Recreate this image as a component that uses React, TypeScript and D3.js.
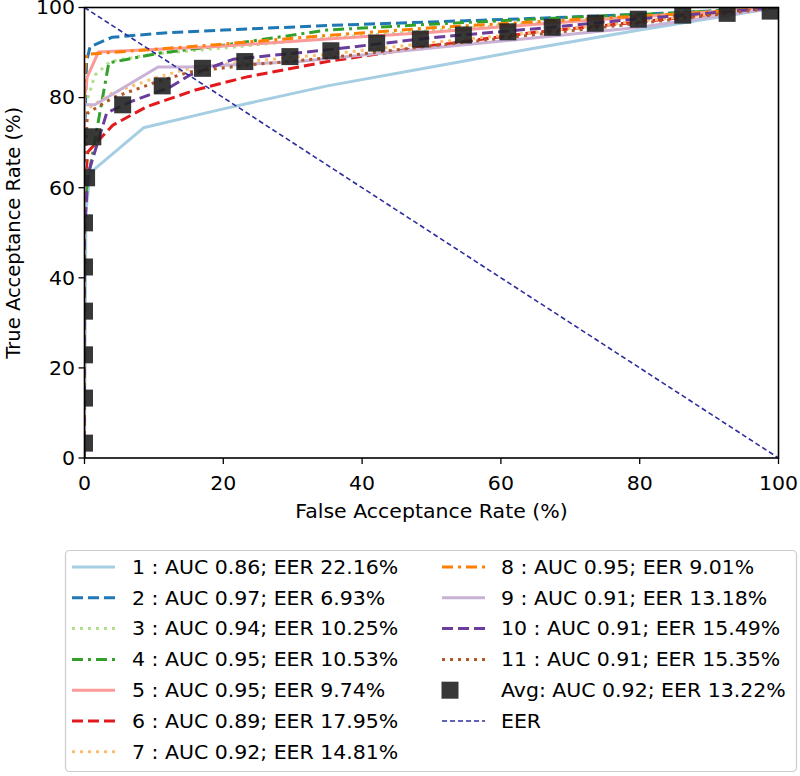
import * as d3 from "d3";

// ROC points per user: [false acceptance %, true acceptance %]
const roc1 = [[0, 0], [0.2, 54.6], [0.8, 63.3], [8.5, 73.3], [20, 77.5], [35, 82.6], [50, 86.8], [65, 91], [80, 95], [100, 100]];
const roc2 = [[0, 0], [0, 70], [0.3, 88], [0.8, 91.3], [4, 93.4], [11, 94.3], [20, 95], [35, 96], [50, 96.8], [67, 97.7], [85, 98.8], [100, 100]];
const roc3 = [[0, 0], [0, 70], [0.5, 80], [1.5, 85], [3.7, 88], [10, 89.7], [20, 91], [35, 93.2], [60, 96], [80, 98], [100, 100]];
const roc4 = [[0, 0], [0, 55], [0.4, 61], [3.5, 87.7], [10.9, 89.9], [18.5, 91.3], [35, 95], [50, 96.3], [70, 97.8], [85, 98.8], [100, 100]];
const roc5 = [[0, 0], [0, 80], [0.4, 84.6], [2, 90.1], [18.5, 91.3], [35, 93], [50, 94.5], [67, 96.5], [85, 98.5], [100, 100]];
const roc6 = [[0, 0], [0, 60], [0.5, 68], [4.1, 73.9], [9, 78], [16, 81.7], [23.4, 84.6], [35, 88], [50, 91.5], [65, 94.5], [80, 96.8], [100, 100]];
const roc7 = [[0, 0], [0, 65], [0.4, 77.5], [4, 81], [10.4, 84.5], [15.2, 86.5], [23.4, 88], [35, 89.6], [50, 92.2], [65, 94.5], [80, 97], [100, 100]];
const roc8 = [[0, 0], [0, 85], [0.3, 89.6], [9, 90.6], [18.5, 91.7], [35, 93.8], [50, 95.5], [67, 97], [85, 98.5], [100, 100]];
const roc9 = [[0, 0], [0, 78.4], [1.5, 78.4], [10.6, 86.8], [15.2, 86.8], [31, 88], [50, 91], [65, 93.3], [80, 95.6], [100, 100]];
const roc10 = [[0, 0], [0, 50], [0.5, 63], [3.2, 76.6], [6.5, 79], [12.3, 82.3], [15.2, 85], [21.4, 88.5], [35, 90.6], [50, 93.3], [65, 95.3], [80, 97.5], [100, 100]];
const roc11 = [[0, 0], [0, 60], [0.4, 76.5], [4.1, 80], [10.4, 83.5], [15.2, 85.7], [23.4, 87.2], [35, 88.8], [50, 91.5], [65, 94], [80, 96.5], [100, 100]];

const avgPoints = [[0, 3.3], [0, 13.3], [0, 22.9], [0, 32.6], [0, 42.4], [0, 52.2], [0.3, 62.2], [1.2, 71.3], [5.5, 78.4], [11.2, 82.6], [17, 86.5], [23.1, 88], [29.6, 89.1], [35.5, 90.4], [42.1, 92.1], [48.4, 93], [54.6, 93.9], [61, 94.6], [67.4, 95.6], [73.6, 96.5], [79.8, 97.4], [86.2, 98.3], [92.6, 98.7], [98.8, 99.2]];
const eerLine = [[0, 100], [100, 0]];

const labels = [
  "1 : AUC 0.86; EER 22.16%",
  "2 : AUC 0.97; EER 6.93%",
  "3 : AUC 0.94; EER 10.25%",
  "4 : AUC 0.95; EER 10.53%",
  "5 : AUC 0.95; EER 9.74%",
  "6 : AUC 0.89; EER 17.95%",
  "7 : AUC 0.92; EER 14.81%",
  "8 : AUC 0.95; EER 9.01%",
  "9 : AUC 0.91; EER 13.18%",
  "10 : AUC 0.91; EER 15.49%",
  "11 : AUC 0.91; EER 15.35%",
];
const avgLabel = "Avg: AUC 0.92; EER 13.22%";
const eerLabel = "EER";

const colors = ["#a6cee3", "#1f78b4", "#b2df8a", "#33a02c", "#fb9a99", "#e31a1c", "#fdbf6f", "#ff7f00", "#cab2d6", "#6a3d9a", "#b15928"];
const styles = ["solid", "dashed", "dotted", "dashdot", "solid", "dashed", "dotted", "dashdot", "solid", "dashed", "dotted"];
const xTicks = [0, 20, 40, 60, 80, 100];
const yTicks = [0, 20, 40, 60, 80, 100];

const series = [roc1, roc2, roc3, roc4, roc5, roc6, roc7, roc8, roc9, roc10, roc11];

const dashOf: { [k: string]: string | undefined } = {
  solid: undefined,
  dashed: "11,5",
  dotted: "3,5",
  dashdot: "11,5,3,5",
};

const FONT = "DejaVu Sans, sans-serif";
const FS = 19.5;
const SX = 1.05;

const T = ({ x, y, anchor = "start", children }: any) => (
  <g transform={`translate(${x},${y}) scale(${SX},1)`}>
    <text x={0} y={0} dy="0.35em" textAnchor={anchor} fontSize={FS} fontFamily={FONT} fill="#000">
      {children}
    </text>
  </g>
);

export default function App() {
  const width = 800;
  const height = 776;
  const left = 84.5, right = 778.5, top = 7.5, bottom = 458;

  const x = d3.scaleLinear().domain([0, 100]).range([left, right]);
  const y = d3.scaleLinear().domain([0, 100]).range([bottom, top]);
  const line = d3.line<number[]>().x((d) => x(d[0])).y((d) => y(d[1]));

  const mk = 17;
  const legTop = 567, legStep = 30.8;

  return (
    <svg width={width} height={height} style={{ position: "absolute", left: 0, top: 0, background: "white" }}>
      <defs>
        <clipPath id="plot">
          <rect x={left} y={top} width={right - left} height={bottom - top} />
        </clipPath>
      </defs>
      <rect x={0} y={0} width={width} height={height} fill="white" />

      <g clipPath="url(#plot)">
        {series.map((s, i) => (
          <path key={i} d={line(s) || ""} fill="none" stroke={colors[i]} strokeWidth={3}
            strokeDasharray={dashOf[styles[i]]} strokeLinejoin="round" />
        ))}
        {avgPoints.map((p, i) => (
          <rect key={i} x={x(p[0]) - mk / 2} y={y(p[1]) - mk / 2} width={mk} height={mk} fill="#222" opacity={0.9} />
        ))}
        <path d={line(eerLine) || ""} fill="none" stroke="#2e2e9e" strokeWidth={1.6} strokeDasharray="5,3" />
      </g>

      {/* frame */}
      <rect x={left} y={top} width={right - left} height={bottom - top} fill="none" stroke="#000" strokeWidth={1.6} />

      {/* x axis */}
      {xTicks.map((t) => (
        <g key={t}>
          <line x1={x(t)} x2={x(t)} y1={bottom} y2={bottom + 6} stroke="#000" strokeWidth={1.3} />
          <T x={x(t)} y={483} anchor="middle">{t}</T>
        </g>
      ))}
      <T x={(left + right) / 2} y={511} anchor="middle">False Acceptance Rate (%)</T>

      {/* y axis */}
      {yTicks.map((t) => (
        <g key={t}>
          <line x1={left - 6} x2={left} y1={y(t)} y2={y(t)} stroke="#000" strokeWidth={1.3} />
          <T x={75} y={y(t)} anchor="end">{t}</T>
        </g>
      ))}
      <text transform={`translate(13,${(top + bottom) / 2}) rotate(-90)`} textAnchor="middle" dy="0.35em"
        fontSize={FS} fontFamily={FONT}>True Acceptance Rate (%)</text>

      {/* legend */}
      <rect x={65.5} y={550.5} width={731} height={221} rx={4} fill="white" stroke="#cccccc" strokeWidth={1.2} />
      {labels.map((lab, i) => {
        const col = i < 7 ? 0 : 1;
        const row = i < 7 ? i : i - 7;
        const ly = legTop + row * legStep;
        const hx = col === 0 ? 72 : 442;
        const tx = col === 0 ? 132 : 501;
        return (
          <g key={i}>
            <line x1={hx} x2={hx + 43} y1={ly} y2={ly} stroke={colors[i]} strokeWidth={3}
              strokeDasharray={dashOf[styles[i]]} />
            <T x={tx} y={ly}>{lab}</T>
          </g>
        );
      })}
      <rect x={450 - mk / 2} y={legTop + 4 * legStep - mk / 2} width={mk} height={mk} fill="#222" opacity={0.9} />
      <T x={501} y={legTop + 4 * legStep}>{avgLabel}</T>
      <line x1={442} x2={485} y1={legTop + 5 * legStep} y2={legTop + 5 * legStep} stroke="#2e2e9e" strokeWidth={1.6} strokeDasharray="5,3" />
      <T x={501} y={legTop + 5 * legStep}>{eerLabel}</T>
    </svg>
  );
}
